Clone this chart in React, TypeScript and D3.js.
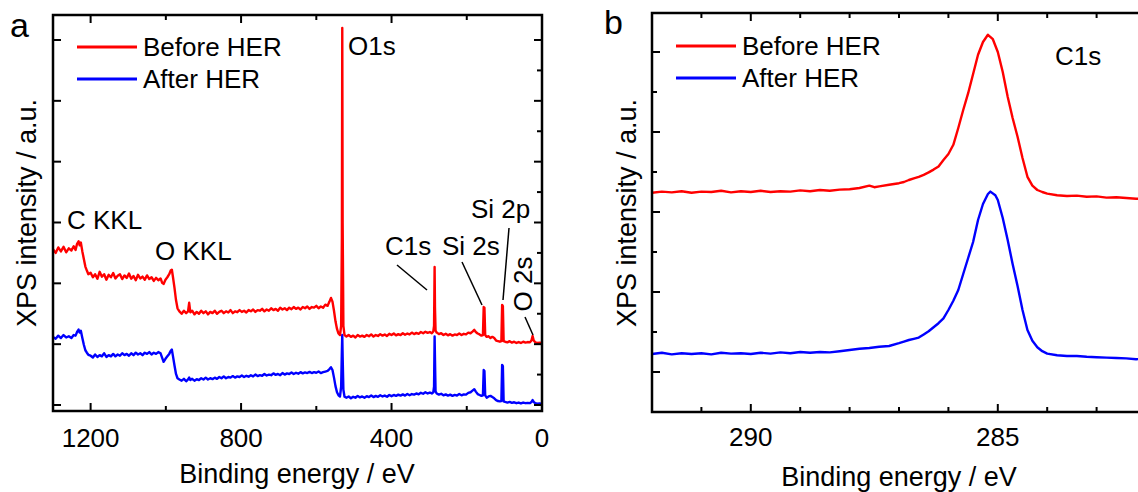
import React from 'react';
import * as d3 from 'd3';

const FONT = '"Liberation Sans", Arial, Helvetica, sans-serif';

// survey spectra: [binding energy eV, intensity a.u.]
const surveyBefore: [number, number][] = [
  [1300,5.12],[1293,5.0],[1286,5.18],[1279,5.05],[1272,5.2],[1265,5.02],[1258,5.15],[1251,5.08],[1245,5.22],[1240,5.1],
  [1236,5.3],[1232,5.38],[1229,5.25],[1226,5.34],[1222,5.05],[1218,4.8],[1214,4.55],[1210,4.42],[1206,4.3],
  [1200,4.35],[1194,4.2],[1188,4.3],[1182,4.15],[1176,4.38],[1170,4.22],[1164,4.3],[1158,4.12],[1152,4.28],[1146,4.2],
  [1140,4.34],[1134,4.16],[1128,4.25],[1122,4.3],[1116,4.14],[1110,4.26],[1104,4.18],[1098,4.32],[1092,4.15],[1086,4.24],
  [1080,4.1],[1074,4.28],[1068,4.16],[1062,4.22],[1056,4.12],[1050,4.26],[1044,4.14],[1038,4.2],[1032,4.08],[1026,4.18],
  [1020,4.1],[1014,4.16],[1010,4.02],[1006,3.98],[1001,4.12],[996,4.2],[991,4.3],[987,4.42],[984,4.45],[981,4.2],
  [977,3.85],[973,3.45],[969,3.18],[964,3.08],[958,3.0],[952,3.1],[946,3.02],[941,3.08],[938,3.36],[935,3.05],
  [930,3.1],[924,2.98],[918,3.06],[912,3.0],[906,3.1],[900,3.02],[894,3.08],[888,2.98],[882,3.06],[876,3.02],
  [870,3.1],[864,3.0],[858,3.06],[852,3.1],[846,3.02],[840,3.08],[834,3.04],[828,3.12],[822,3.02],[816,3.08],
  [810,3.05],[804,3.12],[798,3.06],[792,3.1],[786,3.04],[780,3.12],[774,3.08],[768,3.14],[762,3.06],[756,3.12],
  [750,3.1],[744,3.16],[738,3.08],[732,3.14],[726,3.1],[720,3.18],[714,3.12],[708,3.16],[702,3.1],[696,3.2],
  [690,3.14],[684,3.18],[678,3.12],[672,3.2],[666,3.15],[660,3.22],[654,3.16],[648,3.2],[642,3.14],[636,3.22],
  [630,3.18],[624,3.24],[618,3.16],[612,3.22],[606,3.2],[600,3.26],[594,3.18],[588,3.24],[582,3.2],[576,3.3],
  [570,3.26],[565,3.4],[561,3.52],[557,3.4],[553,3.1],[549,2.75],[545,2.5],[541,2.35],[537,2.3],
  [534,2.6],[532,5.5],[531,12.4],[530,6.0],[528,2.6],[525,2.3],
  [520,2.25],[514,2.3],[508,2.24],[502,2.28],[496,2.22],[490,2.3],[484,2.25],[478,2.28],[472,2.24],[466,2.3],
  [460,2.26],[454,2.32],[448,2.25],[442,2.3],[436,2.27],[430,2.33],[424,2.28],[418,2.32],[412,2.27],[406,2.34],
  [400,2.3],[394,2.35],[388,2.29],[382,2.33],[376,2.3],[370,2.36],[364,2.31],[358,2.35],[352,2.32],[346,2.38],
  [340,2.33],[334,2.37],[328,2.34],[322,2.4],[316,2.36],[310,2.41],[304,2.37],[298,2.4],[293,2.36],
  [289,2.42],[287,2.6],[285.5,4.54],[284.5,3.2],[283,2.45],[280,2.38],
  [274,2.33],[268,2.36],[262,2.3],[256,2.34],[250,2.29],[244,2.33],[238,2.28],[232,2.32],[226,2.3],[220,2.35],
  [214,2.3],[208,2.34],[202,2.32],[196,2.38],[190,2.36],[184,2.42],[180,2.47],[176,2.4],[171,2.35],[166,2.32],
  [161,2.28],[157,2.3],[155,3.22],[153,3.2],[151,2.3],[147,2.24],[142,2.26],[137,2.2],[132,2.24],[127,2.2],
  [122,2.12],[117,2.1],[112,2.08],[108,2.1],[106,3.29],[104,3.25],[102,2.1],[98,2.08],[92,2.06],[86,2.1],
  [80,2.05],[74,2.08],[68,2.04],[62,2.07],[56,2.04],[50,2.08],[44,2.05],[38,2.07],[32,2.06],[28,2.12],
  [25,2.27],[22,2.12],[18,2.06],[12,2.04],[6,2.05],[0,2.03],
];

const surveyAfter: [number, number][] = [
  [1300,2.24],[1293,2.18],[1286,2.28],[1279,2.2],[1272,2.3],[1265,2.22],[1258,2.26],[1251,2.2],[1245,2.3],[1240,2.28],
  [1236,2.4],[1232,2.48],[1229,2.38],[1226,2.44],[1222,2.2],[1218,1.98],[1214,1.8],[1210,1.72],[1206,1.65],
  [1200,1.62],[1194,1.56],[1188,1.66],[1182,1.58],[1176,1.64],[1170,1.6],[1164,1.7],[1158,1.58],[1152,1.64],[1146,1.6],
  [1140,1.68],[1134,1.6],[1128,1.66],[1122,1.62],[1116,1.7],[1110,1.64],[1104,1.68],[1098,1.62],[1092,1.7],[1086,1.64],
  [1080,1.72],[1074,1.66],[1068,1.7],[1062,1.64],[1056,1.72],[1050,1.68],[1044,1.74],[1038,1.66],[1032,1.72],[1026,1.68],
  [1020,1.74],[1014,1.7],[1010,1.56],[1006,1.42],[1001,1.52],[996,1.6],[991,1.68],[987,1.78],[984,1.82],[981,1.6],
  [977,1.3],[973,1.02],[969,0.88],[964,0.84],[958,0.8],[952,0.86],[946,0.78],[941,0.84],[938,0.9],[935,0.82],
  [930,0.86],[924,0.8],[918,0.85],[912,0.82],[906,0.88],[900,0.84],[894,0.9],[888,0.84],[882,0.88],[876,0.85],
  [870,0.9],[864,0.86],[858,0.92],[852,0.88],[846,0.94],[840,0.88],[834,0.92],[828,0.9],[822,0.95],[816,0.9],
  [810,0.94],[804,0.92],[798,0.97],[792,0.92],[786,0.96],[780,0.93],[774,0.98],[768,0.94],[762,1.0],[756,0.95],
  [750,0.98],[744,0.96],[738,1.02],[732,0.97],[726,1.0],[720,0.98],[714,1.04],[708,0.99],[702,1.02],[696,0.98],
  [690,1.05],[684,1.0],[678,1.04],[672,1.02],[666,1.07],[660,1.02],[654,1.06],[648,1.03],[642,1.08],[636,1.04],
  [630,1.07],[624,1.05],[618,1.09],[612,1.05],[606,1.08],[600,1.06],[594,1.1],[588,1.05],[582,1.08],[576,1.1],
  [570,1.12],[565,1.18],[561,1.24],[557,1.15],[553,0.9],[549,0.62],[545,0.42],[541,0.32],[537,0.28],
  [534,0.6],[532,1.8],[531,2.3],[530,1.6],[528,0.5],[525,0.27],
  [520,0.24],[514,0.28],[508,0.22],[502,0.27],[496,0.24],[490,0.3],[484,0.25],[478,0.28],[472,0.24],[466,0.29],
  [460,0.26],[454,0.31],[448,0.26],[442,0.3],[436,0.27],[430,0.32],[424,0.28],[418,0.31],[412,0.27],[406,0.33],
  [400,0.29],[394,0.33],[388,0.3],[382,0.34],[376,0.31],[370,0.35],[364,0.31],[358,0.36],[352,0.32],[346,0.36],
  [340,0.34],[334,0.38],[328,0.35],[322,0.4],[316,0.37],[310,0.42],[304,0.38],[298,0.41],[293,0.38],
  [289,0.42],[287,0.6],[285.5,2.25],[284.5,1.5],[283,0.45],[280,0.38],
  [274,0.34],[268,0.37],[262,0.32],[256,0.35],[250,0.31],[244,0.34],[238,0.3],[232,0.33],[226,0.31],[220,0.36],
  [214,0.32],[208,0.35],[202,0.34],[196,0.4],[190,0.42],[184,0.48],[180,0.52],[176,0.44],[171,0.36],[166,0.33],
  [161,0.3],[157,0.32],[155,1.15],[153,1.12],[151,0.32],[147,0.24],[142,0.28],[137,0.3],[132,0.26],[127,0.22],
  [122,0.16],[117,0.13],[112,0.12],[108,0.13],[106,1.32],[104,1.28],[102,0.12],[98,0.1],[92,0.08],[86,0.1],
  [80,0.07],[74,0.09],[68,0.06],[62,0.08],[56,0.05],[50,0.08],[44,0.06],[38,0.07],[32,0.06],[28,0.1],
  [25,0.16],[22,0.1],[18,0.06],[12,0.04],[6,0.05],[0,0.03],
];

// high resolution C1s spectra
const c1sBefore: [number, number][] = [
  [292.0,4.48],[291.8,4.51],[291.6,4.49],[291.4,4.52],[291.2,4.48],[291.0,4.51],[290.8,4.5],[290.6,4.53],[290.4,4.49],[290.2,4.52],
  [290.0,4.5],[289.8,4.53],[289.6,4.5],[289.4,4.52],[289.2,4.51],[289.0,4.54],[288.8,4.52],[288.6,4.55],[288.4,4.53],[288.2,4.56],
  [288.0,4.57],[287.8,4.6],[287.6,4.66],[287.5,4.62],[287.4,4.64],[287.2,4.68],[287.0,4.72],[286.9,4.75],[286.8,4.8],[286.7,4.84],
  [286.6,4.88],[286.5,4.93],[286.4,4.99],[286.3,5.06],[286.2,5.14],[286.1,5.3],[286.0,5.45],[285.9,5.68],[285.8,6.1],[285.7,6.55],
  [285.6,6.97],[285.5,7.45],[285.4,7.93],[285.3,8.25],[285.2,8.43],[285.1,8.32],[285.0,8.0],[284.9,7.5],[284.8,6.88],[284.7,6.35],
  [284.6,5.88],[284.5,5.35],[284.4,4.88],[284.3,4.66],[284.2,4.55],[284.1,4.5],[284.0,4.46],[283.8,4.42],[283.6,4.4],[283.4,4.41],
  [283.2,4.38],[283.0,4.39],[282.8,4.36],[282.6,4.37],[282.4,4.35],[282.2,4.33],[282.0,4.34],
];

const c1sAfter: [number, number][] = [
  [292.0,0.45],[291.8,0.48],[291.6,0.44],[291.4,0.47],[291.2,0.45],[291.0,0.47],[290.8,0.44],[290.6,0.48],[290.4,0.46],[290.2,0.47],
  [290.0,0.45],[289.8,0.48],[289.6,0.46],[289.4,0.49],[289.2,0.47],[289.0,0.5],[288.8,0.48],[288.6,0.5],[288.4,0.49],[288.2,0.52],
  [288.0,0.55],[287.8,0.58],[287.6,0.6],[287.4,0.63],[287.2,0.65],[287.0,0.72],[286.9,0.76],[286.8,0.8],[286.7,0.83],[286.6,0.86],
  [286.5,0.94],[286.4,1.02],[286.3,1.12],[286.2,1.22],[286.1,1.34],[286.0,1.55],[285.9,1.78],[285.8,2.05],[285.7,2.45],[285.6,2.85],
  [285.5,3.25],[285.4,3.8],[285.3,4.2],[285.2,4.45],[285.15,4.51],[285.05,4.42],[285.0,4.3],[284.9,3.85],[284.8,3.3],[284.7,2.7],
  [284.6,2.15],[284.5,1.55],[284.4,1.05],[284.3,0.78],[284.2,0.62],[284.1,0.52],[284.0,0.46],[283.8,0.42],[283.6,0.4],[283.4,0.4],
  [283.2,0.38],[283.0,0.37],[282.8,0.36],[282.6,0.35],[282.4,0.34],[282.2,0.32],[282.0,0.33],
];

const seriesNames = ['Before HER', 'After HER'];
const seriesColors = ['#ff0000', '#0000ff'];
const surveyTicks = [1200, 800, 400, 0];
const c1sTicks = [290, 285];

const W = 1138;
const H = 492;

function Legend({ x, y }: { x: number; y: number }) {
  return (
    <g>
      {seriesNames.map((n, i) => (
        <g key={n} transform={`translate(${x},${y + i * 32})`}>
          <line x1={0} x2={60} y1={0} y2={0} stroke={seriesColors[i]} strokeWidth={2.8} />
          <text x={66} y={9} fontSize={26}>{n}</text>
        </g>
      ))}
    </g>
  );
}

export default function App() {
  // panel a
  const xa = d3.scaleLinear().domain([1300, 0]).range([53, 542]);
  const ya = d3.scaleLinear().domain([0, 12]).range([405, 40]);
  const boxA = { l: 53, r: 542, t: 15, b: 411 };
  // panel b
  const xb = d3.scaleLinear().domain([292, 282]).range([652, 1146]);
  const yb = d3.scaleLinear().domain([0, 8]).range([372, 52]);
  const boxB = { l: 652, r: 1146, t: 13, b: 412 };

  const lineA = d3.line<[number, number]>().x(d => xa(d[0])).y(d => ya(d[1]));
  const lineB = d3.line<[number, number]>().x(d => xb(d[0])).y(d => yb(d[1]));

  const xaTicks = d3.range(0, 1201, 200);
  const yaTicks = d3.range(0, 13, 1);
  const xbTicks = d3.range(283, 292, 1);
  const ybTicks = d3.range(0, 9, 1);

  const ax = { stroke: '#000', strokeWidth: 2.5 };
  const tk = { stroke: '#000', strokeWidth: 2 };

  return (
    <svg width={W} height={H} style={{ position: 'absolute', left: 0, top: 0, background: '#fff' }}
      fontFamily={FONT} fill="#000">
      {/* ---------- panel a ---------- */}
      <g>
        <path d={lineA(surveyAfter) || ''} fill="none" stroke={seriesColors[1]} strokeWidth={2.4} strokeLinejoin="round" />
        <path d={lineA(surveyBefore) || ''} fill="none" stroke={seriesColors[0]} strokeWidth={2.4} strokeLinejoin="round" />
        <rect x={boxA.l} y={boxA.t} width={boxA.r - boxA.l} height={boxA.b - boxA.t} fill="none" {...ax} />
        {xaTicks.map(v => {
          const len = v % 400 === 0 ? 8 : 5;
          return (
            <g key={'xa' + v}>
              <line x1={xa(v)} x2={xa(v)} y1={boxA.b} y2={boxA.b - len} {...tk} />
              <line x1={xa(v)} x2={xa(v)} y1={boxA.t} y2={boxA.t + len} {...tk} />
            </g>
          );
        })}
        {yaTicks.map(v => {
          const major = v % 2 === 0;
          return (
            <g key={'ya' + v}>
              {major && <line x1={boxA.l} x2={boxA.l + 8} y1={ya(v)} y2={ya(v)} {...tk} />}
              <line x1={boxA.r} x2={boxA.r - (major ? 8 : 5)} y1={ya(v)} y2={ya(v)} {...tk} />
            </g>
          );
        })}
        {surveyTicks.map(v => (
          <text key={'la' + v} x={xa(v)} y={447} fontSize={26} textAnchor="middle">{v}</text>
        ))}
        <text x={297} y={483} fontSize={27} textAnchor="middle">Binding energy / eV</text>
        <text transform={`translate(36,213) rotate(-90)`} fontSize={27} textAnchor="middle">XPS intensity / a.u.</text>
        <text x={10} y={37} fontSize={34}>a</text>
        <Legend x={77} y={47} />
        {/* peak labels */}
        <g fontSize={26}>
          <text x={348} y={55}>O1s</text>
          <text x={67} y={229}>C KKL</text>
          <text x={155} y={260}>O KKL</text>
          <text x={385} y={255}>C1s</text>
          <text x={442} y={255}>Si 2s</text>
          <text x={471} y={218}>Si 2p</text>
          <text transform="translate(532,284) rotate(-90)" textAnchor="middle">O 2s</text>
        </g>
        <g stroke="#000" strokeWidth={1.5}>
          <line x1={397} y1={265} x2={427} y2={290} />
          <line x1={462} y1={262} x2={482} y2={305} />
          <line x1={509} y1={228} x2={503} y2={300} />
          <line x1={525} y1={317} x2={533} y2={335} />
        </g>
      </g>

      {/* ---------- panel b ---------- */}
      <g>
        <path d={lineB(c1sAfter) || ''} fill="none" stroke={seriesColors[1]} strokeWidth={2.4} strokeLinejoin="round" />
        <path d={lineB(c1sBefore) || ''} fill="none" stroke={seriesColors[0]} strokeWidth={2.4} strokeLinejoin="round" />
        <rect x={boxB.l} y={boxB.t} width={boxB.r - boxB.l} height={boxB.b - boxB.t} fill="none" {...ax} />
        {xbTicks.map(v => {
          const len = v % 5 === 0 ? 8 : 5;
          return (
            <g key={'xb' + v}>
              <line x1={xb(v)} x2={xb(v)} y1={boxB.b} y2={boxB.b - len} {...tk} />
              <line x1={xb(v)} x2={xb(v)} y1={boxB.t} y2={boxB.t + len} {...tk} />
            </g>
          );
        })}
        {ybTicks.map(v => (
          <line key={'yb' + v} x1={boxB.l} x2={boxB.l + (v % 2 === 0 ? 8 : 5)} y1={yb(v)} y2={yb(v)} {...tk} />
        ))}
        {c1sTicks.map(v => (
          <text key={'lb' + v} x={xb(v)} y={446} fontSize={26} textAnchor="middle">{v}</text>
        ))}
        <text x={899} y={486} fontSize={27} textAnchor="middle">Binding energy / eV</text>
        <text transform={`translate(636,213) rotate(-90)`} fontSize={27} textAnchor="middle">XPS intensity / a.u.</text>
        <text x={604} y={34} fontSize={34}>b</text>
        <Legend x={676} y={46} />
        <text x={1055} y={65} fontSize={26}>C1s</text>
      </g>
    </svg>
  );
}
